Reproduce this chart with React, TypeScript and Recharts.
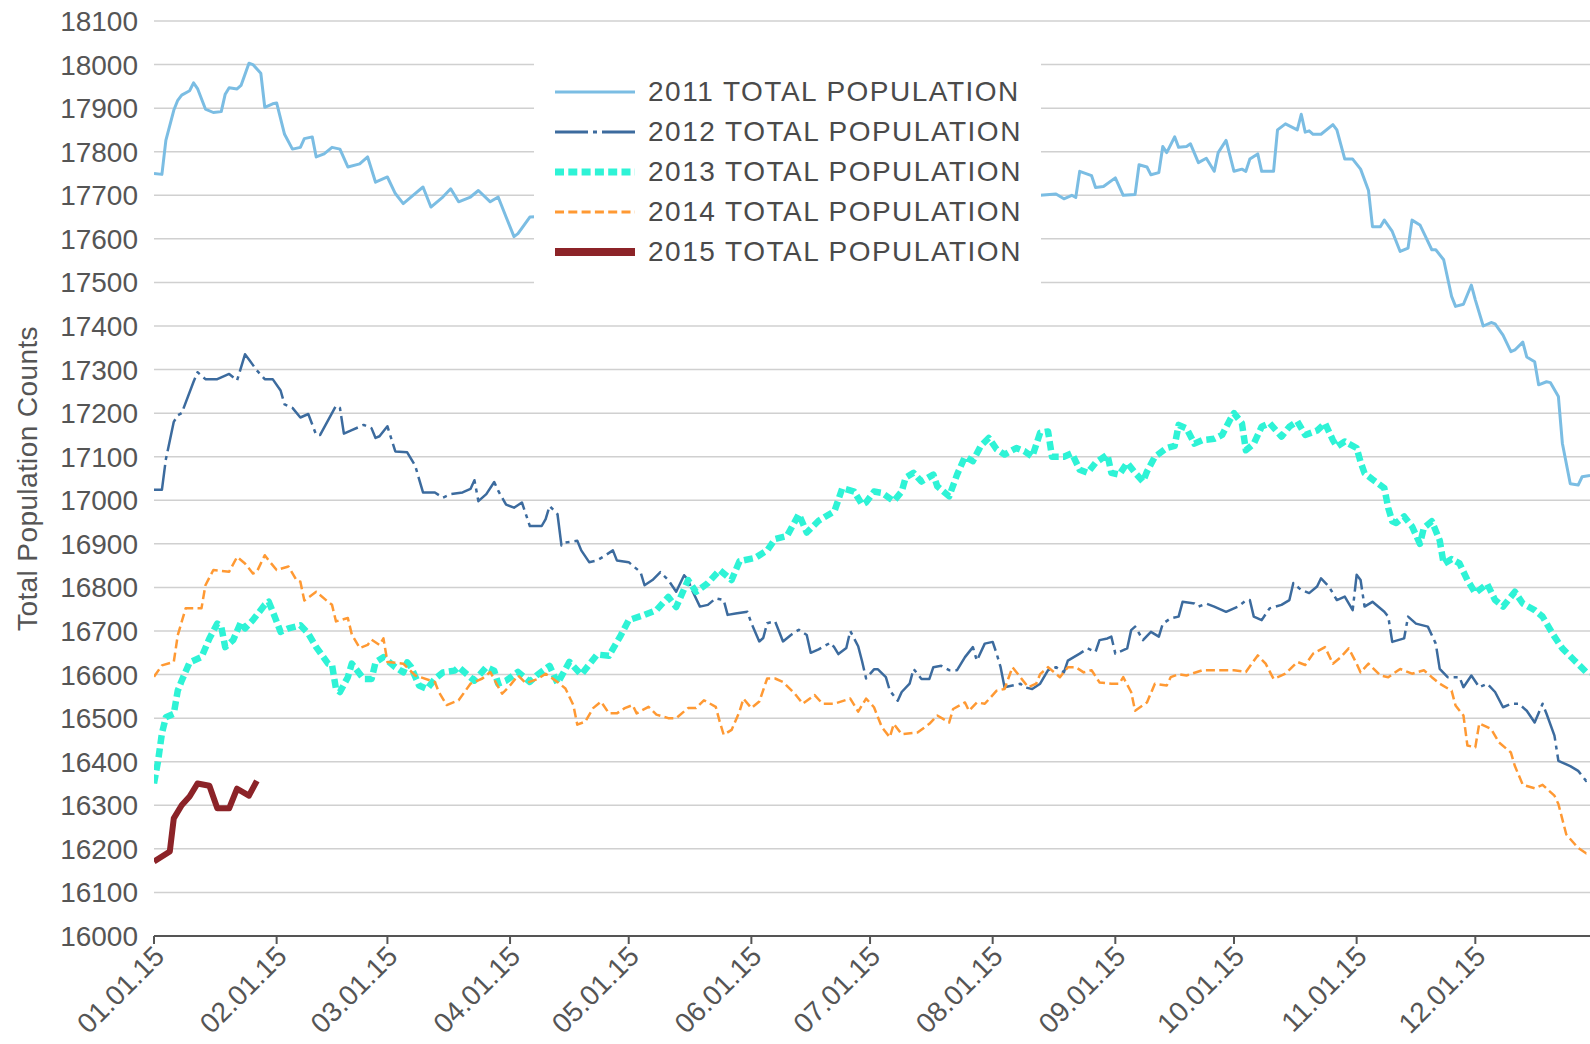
import { LineChart, Line, XAxis, YAxis, CartesianGrid, Legend } from "recharts";

// x axis: day of year, ticks at the first of each month
const MONTH_STARTS = [0, 31, 59, 90, 120, 151, 181, 212, 243, 273, 304, 334];
const MONTH_LABELS = [
  "01.01.15", "02.01.15", "03.01.15", "04.01.15", "05.01.15", "06.01.15",
  "07.01.15", "08.01.15", "09.01.15", "10.01.15", "11.01.15", "12.01.15",
];

const Y_TICKS = [
  16000, 16100, 16200, 16300, 16400, 16500, 16600, 16700, 16800, 16900, 17000,
  17100, 17200, 17300, 17400, 17500, 17600, 17700, 17800, 17900, 18000, 18100,
];

// 2011 (the stretch hidden behind the legend is left out)
const DAYS_2011 = [
  0, 2, 3, 5, 6, 7, 9, 10, 11, 13, 15, 17, 18, 19, 21, 22, 24, 25, 27, 28, 30, 31, 33, 35, 37, 38,
  40, 41, 43, 45, 47, 49, 52, 54, 56, 59, 61, 63, 66, 68, 70, 73, 75, 77, 80, 82, 85, 87, 89, 91,
  92, 95,
  224, 228, 230, 232, 233, 234, 237, 238, 240, 243, 245, 248, 249, 251, 252, 254, 255, 256, 258,
  259, 261, 262, 264, 266, 268, 269, 271, 273, 275, 276, 277, 279, 280, 283, 284, 286, 289, 290,
  291, 292, 293, 295, 298, 299, 301, 303, 305, 307, 308, 310, 311, 313, 315, 317, 318, 320, 321,
  323, 324, 326, 328, 329, 331, 333, 334, 336, 338, 339, 341, 343, 344, 346, 347, 349, 350, 352,
  353, 355, 356, 358, 360, 361, 363,
];
const POP_2011 = [
  17750, 17748, 17826, 17895, 17918, 17930, 17940, 17958, 17945, 17898, 17890, 17892, 17932, 17947,
  17944, 17952, 18003, 18000, 17980, 17902, 17910, 17912, 17840, 17806, 17810, 17830, 17834, 17788,
  17795, 17810, 17806, 17765, 17772, 17788, 17730, 17742, 17704, 17681, 17704, 17719, 17673, 17696,
  17715, 17685, 17696, 17711, 17685, 17696, 17650, 17605, 17612, 17650,
  17700, 17703, 17692, 17700, 17695, 17755, 17745, 17718, 17720, 17740, 17700, 17702, 17770, 17765,
  17747, 17752, 17812, 17798, 17834, 17810, 17812, 17818, 17775, 17785, 17755, 17798, 17826, 17755,
  17760, 17755, 17783, 17795, 17755, 17755, 17850, 17864, 17850, 17886, 17845, 17848, 17840, 17840,
  17862, 17850, 17783, 17783, 17760, 17711, 17628, 17628, 17643, 17617, 17571, 17579, 17643, 17632,
  17613, 17575, 17575, 17552, 17468, 17445, 17450, 17494, 17460, 17400, 17408, 17405, 17379, 17341,
  17345, 17363, 17329, 17318, 17265, 17272, 17270, 17238, 17131, 17038, 17035, 17054, 17057,
];

const DAYS_2012 = [
  0, 2, 3, 5, 6, 7, 10, 11, 13, 16, 19, 21, 23, 24, 26, 28, 30, 32, 33, 35, 37, 39, 41, 42, 46, 47,
  48, 50, 53, 55, 56, 57, 59, 61, 64, 66, 68, 71, 73, 75, 78, 80, 81, 82, 84, 86, 87, 89, 91, 93,
  95, 98, 99, 100, 102, 103, 104, 107, 108, 110, 112, 114, 116, 117, 120, 121, 123, 124, 126, 128,
  130, 132, 134, 135, 136, 138, 140, 142, 144, 145, 147, 150, 151, 153, 154, 155, 157, 159, 161,
  163, 165, 166, 168, 171, 172, 173, 175, 176, 178, 179, 180, 182, 183, 185, 186, 188, 189, 191,
  192, 194, 196, 197, 199, 201, 203, 205, 207, 208, 210, 212, 213, 214, 215, 217, 219, 220, 222,
  224, 226, 228, 230, 231, 234, 236, 238, 239, 241, 242, 243, 246, 247, 248, 250, 252, 254, 255,
  257, 259, 260, 263, 264, 266, 268, 271, 272, 274, 276, 277, 278, 280, 282, 285, 287, 288, 290,
  292, 294, 295, 297, 299, 301, 303, 304, 305, 306, 308, 311, 312, 313, 316, 317, 319, 322, 324,
  325, 327, 330, 331, 333, 335, 337, 339, 341, 343, 345, 347, 349, 351, 352, 354, 355, 358, 360,
  362, 363,
];
const POP_2012 = [
  17024, 17024, 17094, 17180, 17195, 17200, 17272, 17294, 17278, 17278, 17290, 17275, 17335, 17323,
  17298, 17278, 17278, 17252, 17220, 17212, 17190, 17198, 17150, 17150, 17217, 17212, 17153, 17161,
  17173, 17165, 17143, 17147, 17170, 17112, 17110, 17080, 17018, 17018, 17006, 17014, 17018, 17026,
  17046, 16998, 17014, 17042, 17022, 16990, 16983, 16995, 16941, 16941, 16957, 16987, 16968, 16896,
  16903, 16907, 16885, 16858, 16862, 16873, 16885, 16862, 16858, 16850, 16835, 16805, 16817, 16835,
  16817, 16790, 16828, 16817, 16794, 16756, 16760, 16775, 16771, 16737, 16740, 16744, 16718, 16676,
  16684, 16718, 16722, 16676, 16691, 16703, 16691, 16650, 16658, 16673, 16662, 16647, 16661, 16700,
  16665, 16630, 16591, 16612, 16612, 16594, 16563, 16540, 16560, 16579, 16613, 16590, 16590, 16617,
  16620, 16610, 16610, 16640, 16663, 16632, 16671, 16675, 16648, 16617, 16571, 16575, 16579, 16571,
  16567, 16579, 16610, 16617, 16605, 16632, 16648, 16660, 16652, 16679, 16683, 16687, 16648, 16660,
  16702, 16710, 16679, 16698, 16687, 16717, 16729, 16733, 16767, 16763, 16756, 16763, 16756, 16744,
  16748, 16756, 16770, 16771, 16733, 16725, 16752, 16760, 16771, 16810, 16794, 16787, 16802, 16821,
  16802, 16771, 16779, 16748, 16829, 16817, 16756, 16767, 16744, 16733, 16675, 16683, 16733, 16717,
  16710, 16671, 16613, 16594, 16594, 16571, 16598, 16571, 16579, 16560, 16525, 16533, 16533, 16517,
  16490, 16533, 16510, 16460, 16402, 16390, 16379, 16356, 16360,
];

const DAYS_2013 = [
  0, 1, 2, 3, 5, 6, 7, 9, 12, 14, 16, 17, 18, 20, 22, 23, 25, 28, 29, 30, 32, 34, 37, 39, 41, 44,
  45, 46, 47, 49, 50, 53, 55, 56, 58, 61, 63, 64, 65, 67, 69, 71, 73, 76, 77, 81, 84, 86, 87, 89,
  92, 95, 97, 100, 102, 105, 108, 112, 115, 118, 120, 124, 127, 130, 132, 135, 137, 140, 143, 146,
  148, 152, 155, 157, 160, 163, 165, 168, 172, 174, 177, 179, 180, 182, 184, 187, 189, 190, 192,
  194, 197, 198, 201, 203, 205, 207, 209, 211, 213, 215, 218, 220, 222, 224, 226, 227, 230, 232,
  234, 236, 238, 241, 242, 244, 246, 248, 250, 251, 253, 256, 258, 259, 261, 263, 265, 268, 270,
  272, 273, 275, 276, 278, 280, 282, 285, 287, 289, 291, 294, 296, 298, 299, 301, 304, 305, 306,
  308, 311, 312, 313, 314, 316, 318, 320, 321, 323, 325, 326, 328, 330, 332, 334, 337, 339, 341,
  344, 346, 349, 351, 354, 356, 359, 362, 363,
];
const POP_2013 = [
  16350, 16400, 16465, 16502, 16510, 16563, 16586, 16628, 16640, 16683, 16717, 16710, 16663, 16679,
  16721, 16706, 16725, 16760, 16767, 16745, 16698, 16706, 16713, 16694, 16663, 16625, 16622, 16567,
  16560, 16594, 16625, 16590, 16590, 16628, 16640, 16617, 16605, 16628, 16617, 16575, 16567, 16590,
  16605, 16609, 16617, 16586, 16617, 16609, 16579, 16586, 16606, 16583, 16600, 16620, 16580, 16629,
  16600, 16646, 16643, 16690, 16725, 16737, 16748, 16778, 16755, 16817, 16790, 16810, 16840, 16817,
  16860, 16868, 16885, 16911, 16918, 16968, 16926, 16953, 16975, 17028, 17020, 16990, 16995, 17020,
  17017, 16998, 17020, 17052, 17063, 17043, 17059, 17032, 17009, 17059, 17100, 17090, 17125, 17143,
  17117, 17105, 17120, 17113, 17100, 17155, 17158, 17100, 17100, 17108, 17070, 17063, 17086, 17105,
  17063, 17059, 17086, 17063, 17043, 17066, 17100, 17120, 17125, 17173, 17165, 17130, 17138, 17141,
  17150, 17185, 17200, 17177, 17115, 17130, 17169, 17177, 17146, 17169, 17181, 17150, 17160, 17177,
  17138, 17123, 17135, 17120, 17088, 17062, 17048, 17028, 16982, 16952, 16948, 16963, 16940, 16900,
  16937, 16952, 16908, 16854, 16865, 16855, 16817, 16787, 16808, 16771, 16756, 16790, 16763, 16748,
  16733, 16687, 16660, 16633, 16606, 16603,
];

const DAYS_2014 = [
  0, 2, 5, 6, 8, 12, 13, 15, 19, 21, 23, 25, 26, 28, 29, 31, 34, 36, 37, 38, 41, 44, 45, 46, 49, 50,
  52, 54, 55, 57, 58, 59, 63, 66, 71, 72, 74, 77, 80, 83, 85, 87, 88, 90, 92, 94, 97, 99, 102, 104,
  106, 107, 109, 111, 113, 115, 117, 119, 121, 122, 125, 127, 130, 132, 135, 137, 139, 142, 143,
  144, 146, 148, 149, 151, 153, 155, 157, 159, 162, 164, 167, 169, 172, 176, 178, 180, 182, 184,
  186, 187, 189, 193, 196, 198, 201, 202, 205, 206, 208, 210, 213, 215, 217, 219, 221, 223, 224,
  226, 229, 231, 233, 235, 237, 239, 242, 244, 245, 247, 248, 251, 253, 256, 257, 259, 261, 265,
  269, 273, 276, 279, 281, 283, 286, 289, 291, 293, 296, 298, 300, 302, 304, 305, 307, 310, 312,
  315, 318, 321, 323, 325, 328, 329, 331, 332, 334, 335, 338, 340, 343, 344, 346, 349, 351, 354,
  355, 357, 360, 362, 363,
];
const POP_2014 = [
  16595, 16621, 16629, 16690, 16752, 16752, 16805, 16840, 16836, 16870, 16855, 16832, 16836, 16874,
  16862, 16840, 16848, 16817, 16813, 16770, 16790, 16767, 16760, 16722, 16730, 16692, 16661, 16668,
  16680, 16668, 16683, 16629, 16625, 16598, 16583, 16560, 16530, 16541, 16579, 16591, 16606, 16572,
  16556, 16575, 16598, 16580, 16590, 16602, 16583, 16568, 16530, 16485, 16492, 16523, 16538, 16511,
  16511, 16523, 16530, 16511, 16526, 16508, 16500, 16500, 16523, 16523, 16541, 16526, 16492, 16462,
  16473, 16515, 16545, 16523, 16538, 16591, 16591, 16583, 16556, 16533, 16553, 16533, 16533, 16545,
  16515, 16545, 16525, 16479, 16456, 16487, 16463, 16467, 16487, 16506, 16490, 16521, 16536, 16517,
  16536, 16533, 16563, 16567, 16617, 16594, 16571, 16579, 16601, 16617, 16594, 16617, 16617, 16605,
  16610, 16582, 16579, 16579, 16594, 16560, 16517, 16536, 16579, 16575, 16594, 16601, 16598, 16610,
  16610, 16610, 16606, 16644, 16625, 16590, 16602, 16629, 16622, 16648, 16663, 16625, 16640, 16660,
  16625, 16605, 16625, 16598, 16594, 16613, 16602, 16610, 16594, 16579, 16563, 16529, 16506, 16437,
  16433, 16488, 16475, 16444, 16421, 16390, 16347, 16339, 16347, 16322, 16303, 16233, 16202, 16190,
  16195,
];

const DAYS_2015 = [0, 4, 5, 7, 9, 11, 14, 16, 19, 21, 24, 26];
const POP_2015 = [16171, 16194, 16270, 16300, 16320, 16350, 16345, 16293, 16293, 16338, 16322, 16356];

const toPoints = (days: number[], values: number[]) =>
  days.map((day, i) => ({ day, value: values[i] }));

const SERIES = [
  { name: "2011 TOTAL POPULATION", days: DAYS_2011, values: POP_2011, color: "#7bbde3", width: 3, dash: undefined, legendWidth: 3 },
  { name: "2012 TOTAL POPULATION", days: DAYS_2012, values: POP_2012, color: "#3c6b9e", width: 2.5, dash: "33 5 4 5", legendWidth: 3 },
  { name: "2013 TOTAL POPULATION", days: DAYS_2013, values: POP_2013, color: "#2ef3d6", width: 6.5, dash: "9 4.3", legendWidth: 7 },
  { name: "2014 TOTAL POPULATION", days: DAYS_2014, values: POP_2014, color: "#ff9933", width: 2.5, dash: "9 4.3", legendWidth: 3 },
  { name: "2015 TOTAL POPULATION", days: DAYS_2015, values: POP_2015, color: "#8c2328", width: 6, dash: undefined, legendWidth: 8 },
];

const FONT = "'Liberation Sans', Arial, sans-serif";
const TEXT = "#555555";

function MonthTick({ x, y, payload }: any) {
  const label = MONTH_LABELS[MONTH_STARTS.indexOf(payload.value)];
  return (
    <g transform={`translate(${x + 5},${y + 5})`}>
      <text textAnchor="end" transform="rotate(-45)" dy="0.35em" fill={TEXT} fontSize={28} fontFamily={FONT}>
        {label}
      </text>
    </g>
  );
}

function YTitle({ viewBox }: any) {
  const cx = viewBox.x + 27;
  const cy = viewBox.y + viewBox.height / 2;
  return (
    <text x={cx} y={cy} dy="0.35em" transform={`rotate(-90 ${cx} ${cy})`} textAnchor="middle" fill={TEXT} fontSize={28} letterSpacing={0.4} fontFamily={FONT}>
      Total Population Counts
    </text>
  );
}

function LegendBox() {
  return (
    <div style={{ background: "#fff", width: 507, height: 223, paddingTop: 11, boxSizing: "border-box" }}>
      {SERIES.map((s) => (
        <div key={s.name} style={{ display: "flex", alignItems: "center", height: 40 }}>
          <svg width={101} height={40} style={{ flex: "none" }}>
            <line x1={21} x2={101} y1={20} y2={20} stroke={s.color} strokeWidth={s.legendWidth} strokeDasharray={s.dash} />
          </svg>
          <span style={{ marginLeft: 13, fontSize: 28, letterSpacing: 1.5, color: "#4a4a4a", fontFamily: FONT, whiteSpace: "nowrap" }}>
            {s.name}
          </span>
        </div>
      ))}
    </div>
  );
}

export default function App() {
  return (
    <div style={{ position: "absolute", left: 0, top: 0, width: 1590, height: 1044, overflow: "hidden", background: "#fff", fontFamily: FONT }}>
      <LineChart width={1600} height={1044} margin={{ top: 21, right: 6, bottom: 0, left: 0 }}>
        <CartesianGrid vertical={false} stroke="#d0d0d0" strokeWidth={1.5} />
        <XAxis
          type="number"
          dataKey="day"
          domain={[0, 364]}
          ticks={MONTH_STARTS}
          interval={0}
          height={108}
          tick={<MonthTick />}
          tickSize={8}
          tickLine={{ stroke: TEXT, strokeWidth: 2 }}
          axisLine={{ stroke: TEXT, strokeWidth: 2 }}
          allowDataOverflow
        />
        <YAxis
          type="number"
          domain={[16000, 18100]}
          ticks={Y_TICKS}
          interval={0}
          width={154}
          axisLine={false}
          tickLine={false}
          tickMargin={10}
          tick={{ fill: TEXT, fontSize: 28, fontFamily: FONT }}
          label={<YTitle />}
          allowDataOverflow
        />
        <Legend
          layout="vertical"
          align="center"
          verticalAlign="middle"
          content={<LegendBox />}
          wrapperStyle={{ left: 534, top: 61, width: 507, height: 223 }}
        />
        {SERIES.map((s) => (
          <Line
            key={s.name}
            name={s.name}
            data={toPoints(s.days, s.values)}
            dataKey="value"
            type="linear"
            stroke={s.color}
            strokeWidth={s.width}
            strokeDasharray={s.dash}
            strokeLinejoin="round"
            dot={false}
            activeDot={false}
            isAnimationActive={false}
          />
        ))}
      </LineChart>
    </div>
  );
}
